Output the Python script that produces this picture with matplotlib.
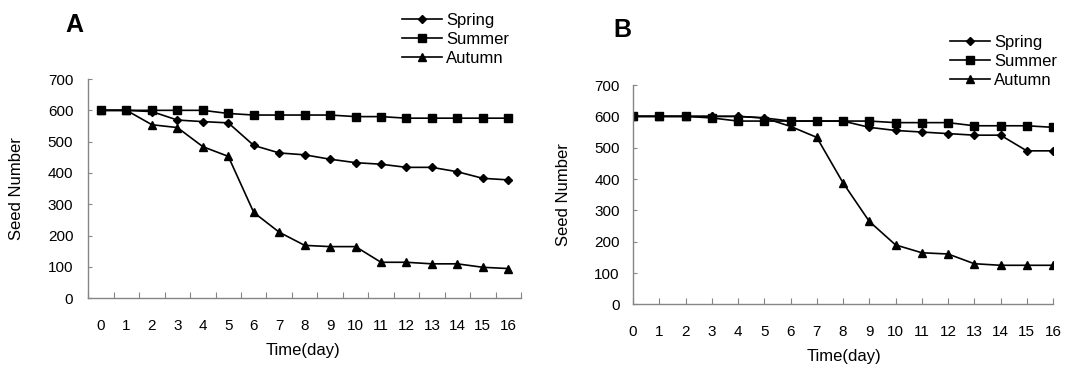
import numpy as np
import matplotlib
matplotlib.use("Agg")
import matplotlib.pyplot as plt

plt.rcParams['font.family'] = ['Liberation Sans', 'DejaVu Sans']

days = list(range(17))
series_names = ["Spring", "Summer", "Autumn"]
markers = ["D", "s", "^"]
msizes = [4.5, 5.5, 6]

# panel A
spring_a = [600, 600, 596, 569, 564, 560, 488, 464, 458, 444, 433, 428, 418, 418, 404, 383, 378]
summer_a = [600, 600, 600, 600, 600, 590, 585, 585, 585, 585, 580, 580, 575, 575, 575, 575, 575]
autumn_a = [600, 600, 554, 545, 484, 453, 274, 211, 169, 165, 165, 115, 115, 110, 110, 99, 95]

# panel B
spring_b = [600, 600, 600, 600, 600, 595, 585, 585, 585, 565, 555, 550, 545, 540, 540, 490, 490]
summer_b = [600, 600, 600, 595, 585, 585, 585, 585, 585, 585, 580, 580, 580, 570, 570, 570, 565]
autumn_b = [600, 600, 600, 600, 600, 595, 568, 533, 388, 265, 190, 165, 161, 130, 125, 125, 125]

yticks = np.arange(0, 701, 100)
spine_col = "#858585"
tick_fs = 11
label_fs = 12

fig = plt.figure(figsize=(10.68, 3.68), dpi=100)
axA = fig.add_axes([0.0827, 0.1894, 0.4051, 0.5959])
axB = fig.add_axes([0.5927, 0.1726, 0.3933, 0.5964])


def style(ax, xpad, ypad):
    for s in ["top", "right"]:
        ax.spines[s].set_visible(False)
    for s in ["left", "bottom"]:
        ax.spines[s].set_color(spine_col)
        ax.spines[s].set_linewidth(1.0)
    ax.set_ylim(0, 700)
    ax.set_yticks(yticks)
    ax.tick_params(axis="y", direction="in", length=3, width=0.8, color=spine_col,
                   labelsize=tick_fs, pad=ypad)
    ax.tick_params(axis="x", which="both", labelsize=tick_fs, pad=xpad)
    ax.set_ylabel("Seed Number", fontsize=label_fs)
    ax.set_xlabel("Time(day)", fontsize=label_fs)


def draw(ax, data):
    handles = []
    for vals, name, m, ms in zip(data, series_names, markers, msizes):
        h, = ax.plot(days, vals, color="black", lw=1.2, marker=m, ms=ms,
                     mfc="black", mec="black", label=name)
        handles.append(h)
    return handles


# A: category axis, points between ticks
hA = draw(axA, [spring_a, summer_a, autumn_a])
axA.set_xlim(-0.5, 16.5)
axA.set_xticks(days)
axA.set_xticks(np.arange(-0.5, 16.6, 1), minor=True)
style(axA, 15, 10.8)
axA.tick_params(axis="x", which="major", length=0)
axA.tick_params(axis="x", which="minor", direction="in", length=4, width=0.8, color=spine_col)
axA.yaxis.set_label_coords(-0.148, 0.5)
axA.xaxis.set_label_coords(0.497, -0.205)

# B: points on ticks
hB = draw(axB, [spring_b, summer_b, autumn_b])
axB.set_xlim(0, 16)
axB.set_xticks(days)
style(axB, 15, 9.5)
axB.tick_params(axis="x", which="major", direction="in", length=4, width=0.8, color=spine_col)
axB.yaxis.set_label_coords(-0.148, 0.5)
axB.xaxis.set_label_coords(0.502, -0.205)

leg_kw = dict(frameon=False, fontsize=12, handlelength=2.4, handletextpad=0.25,
              labelspacing=0.25, borderpad=0, borderaxespad=0, loc="upper left")
fig.legend(handles=hA, bbox_to_anchor=(0.3764, 0.965), **leg_kw)
fig.legend(handles=hB, bbox_to_anchor=(0.8895, 0.906), **leg_kw)

fig.text(0.070, 0.932, "A", fontsize=18, fontweight="bold", ha="center", va="center")
fig.text(0.583, 0.918, "B", fontsize=18, fontweight="bold", ha="center", va="center")

fig.savefig("out.png", dpi=100)
